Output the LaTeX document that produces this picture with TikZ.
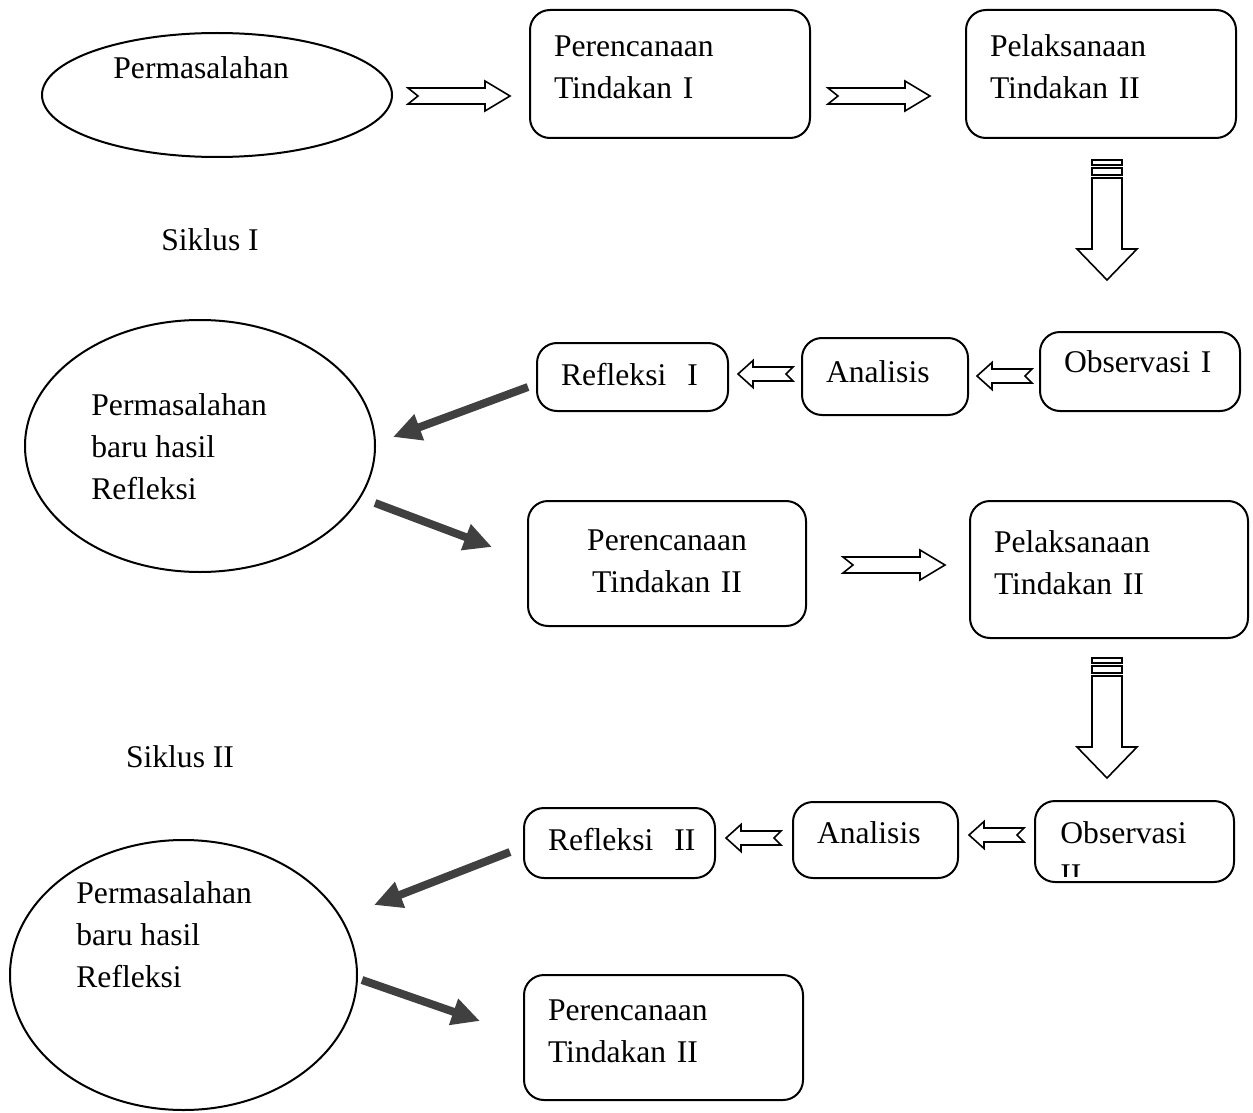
\documentclass[tikz,border=0pt]{standalone}
\usepackage{fontspec}
\setmainfont{Liberation Serif}
\usetikzlibrary{shapes.geometric,arrows.meta,calc}
\newcommand\diagfont{\fontsize{15.8}{21}\selectfont}
% text in a box, lifted a little
\newcommand\lift[3][l]{\raisebox{#2}[\height][\depth]{\begin{tabular}{@{}#1@{}}#3\end{tabular}}}
\begin{document}
\begin{tikzpicture}[x=0.5pt,y=-0.5pt,
  box/.style={draw,line width=1pt,rounded corners=10pt,inner xsep=12pt,inner ysep=0pt,align=left,font=\diagfont},
  oval/.style={draw,line width=1pt,ellipse,inner sep=0pt},
  txt/.style={font=\diagfont,align=left,inner sep=0pt},
  heavyarrow/.style={draw=black!75,line width=4pt,-{Triangle[length=14pt,width=13pt]}},
  rblock/.pic={\draw[line width=0.8pt] (0,8) -- (77,8) -- (77,15) -- (102,0) -- (77,-15) -- (77,-8) -- (0,-8) -- (10,0) -- cycle;},
  lblock/.pic={\draw[line width=0.8pt] (0,0) -- (15,-13.5) -- (15,-7) -- (55,-7) -- (48,0) -- (55,7) -- (15,7) -- (15,13.5) -- cycle;},
  dblock/.pic={\draw[line width=0.8pt] (-15,0) rectangle (15,5) (-15,8) rectangle (15,15);
    \draw[line width=0.8pt] (-15,18) -- (-15,89) -- (-30,89) -- (0,120) -- (30,89) -- (15,89) -- (15,18) -- cycle;}]
  \useasboundingbox (0,0) rectangle (1253,1113);
  % siklus I
  \node[oval,minimum width=175pt,minimum height=62pt] (prob1) at (217,95) {};
  \node[txt,anchor=west] (prob1t) at (113,68) {Permasalahan};
  \node[box,text width=116pt,minimum height=64pt] (plan1) at (670,74) {\lift{2.5pt}{Perencanaan\\Tindakan I}};
  \node[box,text width=111pt,minimum height=64pt] (act1) at (1101,74) {\lift{2.5pt}{Pelaksanaan\\Tindakan II}};
  \node[txt] (cyc1) at (210,240) {Siklus I};
  \node[box,text width=76pt,minimum height=39.5pt] (obs1) at (1140,371.5) {\lift{3.5pt}{Observasi I}};
  \node[box,text width=59pt,minimum height=38.5pt] (ana1) at (885,376.5) {\lift{1pt}{Analisis}};
  \node[box,text width=71.5pt,minimum height=34pt] (ref1) at (632.5,377) {\lift{0pt}{Refleksi\ \ I}};
  \pic at (408,96) {rblock};
  \pic at (828,96) {rblock};
  \pic at (1107,160) {dblock};
  \pic at (977,376) {lblock};
  \pic at (738,374) {lblock};
  % siklus II
  \node[oval,minimum width=175pt,minimum height=126pt] (prob2) at (200,446) {};
  \node[txt,anchor=west] (prob2t) at (91,447) {Permasalahan\\baru hasil\\Refleksi};
  \node[box,text width=115pt,minimum height=62.5pt,align=center] (plan2) at (667,563.5) {\lift[c]{0pt}{Perencanaan\\Tindakan II}};
  \node[box,text width=115pt,minimum height=68.5pt] (act2) at (1109,569.5) {\lift{2pt}{Pelaksanaan\\Tindakan II}};
  \node[txt] (cyc2) at (180,757) {Siklus II};
  \node[box,text width=75.5pt,minimum height=40.5pt] (obs2) at (1134.5,841.5) {};
  \begin{scope}
    \clip ($(obs2.north west)+(1pt,-1pt)$) rectangle ($(obs2.south east)+(-1pt,3.5pt)$);
    \node[txt,anchor=base west] (obs2a) at (1060,843) {Observasi};
    \node[txt,anchor=base west] (obs2b) at (1060,885) {II};
  \end{scope}
  \node[box,text width=58.5pt,minimum height=38pt] (ana2) at (875.5,840) {\lift{2.5pt}{Analisis}};
  \node[box,text width=71.5pt,minimum height=35pt] (ref2) at (619.5,843) {\lift{0.5pt}{Refleksi\ \ II}};
  \pic at (843,565) {rblock};
  \pic at (1107,658) {dblock};
  \pic at (969,835) {lblock};
  \pic at (726,838) {lblock};
  \node[oval,minimum width=173.5pt,minimum height=135pt] (prob3) at (183.5,975) {};
  \node[txt,anchor=west] (prob3t) at (76,935) {Permasalahan\\baru hasil\\Refleksi};
  \node[box,text width=115.5pt,minimum height=62.5pt] (plan3) at (663.5,1037.5) {\lift{2pt}{Perencanaan\\Tindakan II}};
  % panah tebal
  \coordinate (g1a) at (528,387);
  \coordinate (g1b) at (393,437);
  \coordinate (g2a) at (375,503);
  \coordinate (g2b) at (492,547);
  \coordinate (g3a) at (510,852);
  \coordinate (g3b) at (374,905);
  \coordinate (g4a) at (362,980);
  \coordinate (g4b) at (480,1021);
  \draw[heavyarrow] (g1a) -- (g1b);
  \draw[heavyarrow] (g2a) -- (g2b);
  \draw[heavyarrow] (g3a) -- (g3b);
  \draw[heavyarrow] (g4a) -- (g4b);
\end{tikzpicture}
\end{document}
